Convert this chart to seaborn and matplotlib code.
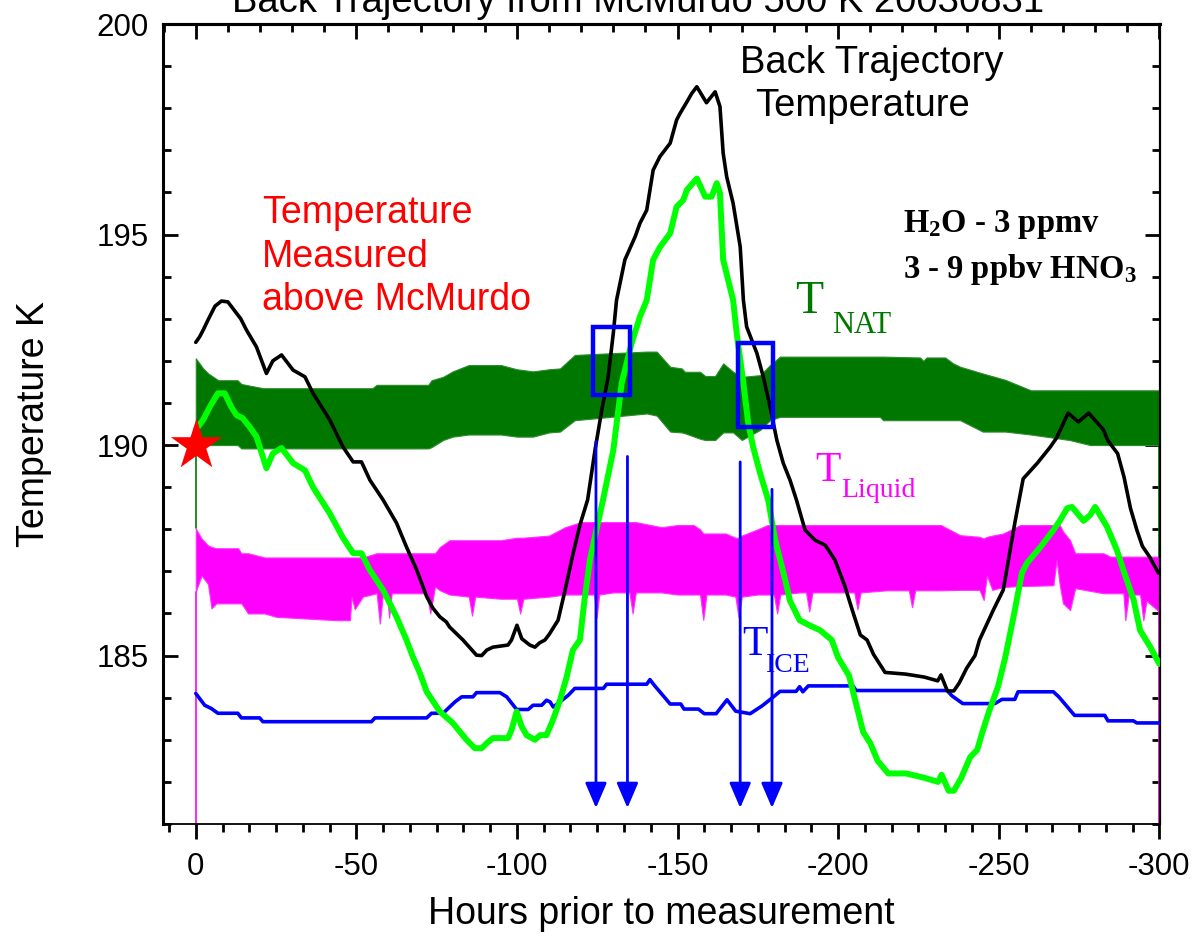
import matplotlib
matplotlib.use("Agg")
import matplotlib.pyplot as plt
import numpy as np
import pandas as pd
import seaborn as sns
from matplotlib.ticker import MultipleLocator
from matplotlib.patches import Rectangle

# ---------------- data ----------------
black_h = [0, -1.2, -2.3, -4, -6, -8, -10, -12, -14, -15.8, -18.9, -22, -24, -26.7, -30.3, -34, -36.5,
           -41.7, -45.8, -49, -51.6, -54.2, -58.3, -62.5, -65.6, -68.8, -71.9, -73.8, -76, -78, -79,
           -83.2, -87.4, -89, -90.6, -92.5, -97.2, -98.3, -100, -101.5, -104, -105.6, -107, -108.7,
           -110, -112.8, -115, -117.4, -119.6, -122, -124.3, -126.4, -128.4, -130, -131, -133.6,
           -136.8, -138.3, -140.4, -142.4, -144.5, -147.7, -149.7, -150.8, -152.9, -154.4, -156,
           -159, -161.7, -163.2, -164.2, -165.3, -167.3, -169.5, -170.5, -171.5, -174.7, -176.7,
           -178.8, -180.9, -182.9, -185, -187, -189.7, -192.8, -196, -199, -202, -204.4, -206.9,
           -209, -211, -214.6, -221, -226.8, -231, -232, -234, -236, -237.7, -240, -242.6, -244,
           -248.3, -251.4, -255, -257.6, -262, -266, -268, -271.6, -274.8, -278, -281, -282.6,
           -284, -287, -289, -291, -293, -294.7, -297, -299.7]
black_T = [192.44, 192.57, 192.73, 193.0, 193.3, 193.42, 193.4, 193.2, 193.0, 192.73, 192.33, 191.7,
           192.0, 192.14, 191.78, 191.62, 191.23, 190.6, 189.96, 189.6, 189.6, 189.17, 188.7, 188.15,
           187.58, 187.03, 186.4, 186.13, 185.92, 185.8, 185.68, 185.37, 185.01, 185.0, 185.13,
           185.2, 185.25, 185.37, 185.72, 185.4, 185.25, 185.2, 185.3, 185.37, 185.5, 185.84,
           186.56, 187.4, 188.1, 188.7, 189.88, 190.83, 191.62, 192.66, 193.44, 194.4, 194.95,
           195.27, 195.58, 196.53, 196.85, 197.17, 197.72, 197.88, 198.15, 198.35, 198.51, 198.13,
           198.39, 198.04, 196.93, 196.37, 195.74, 194.71, 193.44, 192.81, 192.18, 191.62, 190.91,
           190.12, 189.57, 189.17, 188.7, 187.98, 187.74, 187.62, 187.27, 186.67, 186.08, 185.49,
           185.37, 185.03, 184.6, 184.56, 184.49, 184.4, 184.54, 184.16, 184.16, 184.35, 184.7,
           185.0, 185.37, 186.08, 186.56, 188.15, 189.2, 189.57, 189.95, 190.17, 190.76, 190.55,
           190.76, 190.5, 190.36, 190.1, 189.8, 189.24, 188.5, 187.98, 187.6, 187.34, 186.96]

green_h = [0, -2.3, -4.4, -6.9, -9, -11.1, -12.7, -14.6, -16.8, -18.9, -22, -24, -26.7, -30.3, -34,
           -36.5, -41.7, -45.8, -49, -51.6, -54.2, -58.3, -62.5, -65.6, -67.6, -69.8, -71.9, -76,
           -80, -84.3, -86.9, -89, -90.6, -92.5, -97.2, -98.3, -99.9, -101.5, -103, -105.6, -107.2,
           -109.2, -111.2, -113.4, -115.5, -117.4, -119.6, -121, -122.7, -124.5, -126.8, -130,
           -132.6, -135.7, -138.3, -140.4, -142.4, -144.5, -147.7, -149.7, -151.8, -152.9, -156,
           -158.6, -160.6, -162.2, -163.2, -164.2, -167.3, -168.4, -170.5, -172, -173.5, -175.7,
           -178.2, -180.4, -183.5, -185, -188, -191, -194.4, -198, -200, -203.4, -205.6, -207.8,
           -210, -212.3, -215.6, -221.2, -226.7, -231.1, -232.2, -234.4, -236, -238.3, -241.1,
           -243.3, -244.9, -247, -249.8, -252, -254.6, -257.2, -258.8, -263, -267, -269, -271.3,
           -272.8, -276.4, -278.5, -280, -283.7, -286.8, -288.8, -292, -294, -297.2, -300]
green_T = [190.36, 190.6, 190.91, 191.23, 191.23, 190.9, 190.71, 190.64, 190.43, 190.2, 189.45, 189.8,
           189.93, 189.57, 189.4, 189.0, 188.38, 187.8, 187.43, 187.43, 187.03, 186.56, 185.92,
           185.37, 184.97, 184.58, 184.14, 183.67, 183.4, 183.0, 182.8, 182.8, 182.92, 183.04,
           183.04, 183.23, 183.67, 183.31, 183.11, 183.0, 183.11, 183.11, 183.47, 183.94, 184.5,
           185.13, 185.37, 186.3, 187.27, 187.9, 188.7, 189.88, 191.47, 192.42, 193.05, 193.44,
           194.4, 194.7, 195.03, 195.66, 195.82, 196.06, 196.33, 195.9, 195.9, 196.22, 195.98,
           194.4, 193.44, 192.66, 191.47, 190.52, 189.96, 189.33, 188.7, 187.74, 186.8, 186.3,
           185.84, 185.72, 185.6, 185.37, 184.95, 184.52, 183.85, 183.18, 182.92, 182.5, 182.2,
           182.2, 182.1, 182.0, 182.17, 181.79, 181.79, 182.09, 182.59, 182.76, 183.18, 183.68,
           184.27, 184.95, 185.92, 186.96, 187.2, 187.58, 187.98, 188.2, 188.5, 188.53, 188.2,
           188.34, 188.53, 188.06, 187.5, 187.03, 186.32, 185.6, 185.2, 184.8]

ice_h = [0, -2.8, -4.9, -6.9, -13.1, -14.2, -19.9, -20.9, -54.7, -55.8, -71.9, -73.4, -77, -78.5,
         -80.7, -82.8, -86.3, -87.4, -94.7, -96.8, -99.9, -103.5, -105, -107.7, -109.2, -110.3,
         -111.3, -113.4, -116, -118, -126.9, -127.9, -140.4, -141.4, -142.7, -147.7, -151, -152,
         -156.5, -158.3, -162, -165.4, -168.1, -172.6, -176.4, -179.2, -181.9, -186.9, -188, -189,
         -190.7, -204.6, -205.6, -233.9, -235.5, -238.8, -248.8, -251, -255, -256, -267, -268.7,
         -273.6, -283, -284, -291.9, -293, -300]
ice_T = [184.1, 183.82, 183.74, 183.63, 183.63, 183.52, 183.52, 183.43, 183.43, 183.52, 183.52,
         183.63, 183.63, 183.74, 183.9, 184.02, 184.02, 184.12, 184.12, 184.02, 183.72, 183.72,
         183.82, 183.82, 183.94, 183.9, 183.78, 183.9, 184.06, 184.22, 184.22, 184.32, 184.32,
         184.43, 184.3, 183.85, 183.85, 183.73, 183.73, 183.62, 183.62, 183.95, 183.68, 183.62,
         183.81, 183.98, 184.15, 184.15, 184.26, 184.14, 184.28, 184.28, 184.17, 184.17, 184.04,
         183.86, 183.86, 183.96, 183.96, 184.14, 184.14, 184.02, 183.58, 183.58, 183.45, 183.45,
         183.4, 183.4]

nat_h = [0, -2.3, -3.9, -7, -13, -14.2, -21, -55, -56.3, -72.4, -73.4, -77, -80, -85, -95, -100,
         -105, -110, -113.4, -118, -140.4, -143.5, -147.7, -151.3, -152.3, -157, -158.6, -161.7,
         -164.2, -167.3, -170, -175.7, -178.8, -181.9, -194.4, -213, -214, -225.5, -226.5, -227.5,
         -233.3, -235.8, -238, -245, -252, -260, -272, -278.5, -300]
nat_hi = [192.06, 191.82, 191.7, 191.54, 191.54, 191.45, 191.35, 191.35, 191.43, 191.43, 191.54,
          191.62, 191.75, 191.9, 191.9, 191.8, 191.75, 191.8, 191.82, 192.14, 192.22, 192.22,
          191.86, 191.82, 191.74, 191.74, 191.64, 191.64, 191.94, 191.74, 191.62, 191.66, 191.9,
          192.1, 192.1, 192.1, 192.1, 192.08, 192.0, 192.08, 192.08, 191.94, 191.86, 191.7,
          191.55, 191.3, 191.3, 191.3, 191.3]
nat_lo = [190.1, 190.05, 190.0, 190.0, 190.0, 189.92, 189.92, 189.92, 189.92, 189.92, 189.95,
          190.12, 190.2, 190.25, 190.25, 190.2, 190.2, 190.3, 190.32, 190.59, 190.75, 190.7,
          190.32, 190.3, 190.28, 190.15, 190.12, 190.12, 190.3, 190.3, 190.12, 190.36, 190.59,
          190.67, 190.67, 190.67, 190.59, 190.59, 190.59, 190.59, 190.59, 190.59, 190.59, 190.32,
          190.32, 190.25, 190.12, 190.0, 190.0]

liq_h = [0, -1.8, -3.8, -4.9, -6.4, -13.2, -14.2, -16.3, -21.5, -25, -43.8, -48, -48.5, -49.5, -52,
         -56.3, -57.3, -58.3, -59.5, -60.2, -61, -71.9, -73, -74.5, -76, -79, -85, -86, -87, -95,
         -100, -101, -102, -110, -115, -120, -124, -124.8, -125.6, -130, -135, -136, -137, -145,
         -150, -155, -157, -158, -159, -165, -168, -169, -170, -175, -178, -180, -181, -182, -188,
         -190, -191, -192, -200, -205, -206, -207, -215, -222, -223, -224, -232, -238, -244,
         -245.3, -246.3, -248, -251.4, -256.7, -267, -268, -269, -270, -272.2, -273.8, -282.6,
         -284.7, -288.8, -289.4, -290.5, -294, -295, -296, -300]
liq_hi = [188.02, 187.78, 187.62, 187.58, 187.55, 187.55, 187.43, 187.43, 187.33, 187.33, 187.33,
          187.33, 187.33, 187.33, 187.33, 187.43, 187.43, 187.43, 187.43, 187.43, 187.43, 187.43,
          187.43, 187.43, 187.58, 187.74, 187.74, 187.74, 187.74, 187.74, 187.8, 187.8, 187.8,
          187.85, 188.05, 188.17, 188.17, 188.17, 188.17, 188.17, 188.17, 188.17, 188.17, 188.05,
          188.1, 188.1, 188.0, 187.9, 187.9, 187.9, 187.8, 187.8, 187.85, 188.0, 188.1, 188.1,
          188.1, 188.1, 188.1, 188.1, 188.1, 188.1, 188.1, 188.1, 188.1, 188.1, 188.1, 188.1,
          188.1, 188.1, 188.1, 187.86, 187.82, 187.78, 187.82, 187.85, 187.9, 188.1, 188.1, 188.1,
          188.1, 187.95, 187.74, 187.43, 187.43, 187.35, 187.35, 187.35, 187.35, 187.35, 187.35,
          187.35, 187.35]
liq_lo = [186.52, 186.9, 186.7, 186.12, 186.24, 186.24, 186.24, 186.0, 186.0, 185.92, 185.84,
          185.84, 186.4, 186.1, 186.4, 186.48, 185.76, 186.48, 186.48, 185.9, 186.48, 186.48,
          186.0, 186.64, 186.55, 186.45, 186.4, 185.95, 186.4, 186.35, 186.35, 186.0, 186.35,
          186.4, 186.45, 186.45, 186.45, 185.9, 186.45, 186.5, 186.5, 186.0, 186.5, 186.5, 186.45,
          186.45, 186.45, 185.85, 186.45, 186.45, 186.4, 185.9, 186.4, 186.45, 186.45, 186.45,
          186.0, 186.45, 186.5, 186.5, 186.05, 186.5, 186.5, 186.5, 186.1, 186.5, 186.55, 186.55,
          186.15, 186.55, 186.55, 186.56, 186.56, 186.32, 186.9, 186.56, 186.63, 186.65, 186.67,
          187.27, 186.67, 186.24, 186.08, 186.6, 186.48, 186.48, 186.48, 185.84, 186.45, 186.45,
          185.84, 186.3, 186.04]

star_h = [0]
star_T = [190]

box_h_start = [-123.8, -168.9]
box_h_end = [-135.2, -179.8]
box_T_low = [191.19, 190.43]
box_T_high = [192.81, 192.42]

arrow_h = [-124.6, -134.4, -169.5, -179.4]
arrow_T_top = [190.08, 189.73, 189.6, 188.95]
arrow_T_tip = [181.38, 181.38, 181.38, 181.38]

x_ticks = [0, -50, -100, -150, -200, -250, -300]
y_ticks = [185, 190, 195, 200]

# ---------------- style ----------------
sns.set_theme(style="white")
plt.rcParams['font.family'] = ['Liberation Sans', 'DejaVu Sans']
plt.rcParams['axes.unicode_minus'] = False
plt.rcParams['mathtext.default'] = 'regular'
for key in ['text.color', 'axes.labelcolor', 'xtick.color', 'ytick.color', 'axes.edgecolor']:
    plt.rcParams[key] = 'black'

W, H = 1195, 942
fig = plt.figure(figsize=(W / 100, H / 100), dpi=100)
ax = fig.add_axes([163 / W, 118 / H, 997 / W, 800 / H])

NAT_C = '#007800'
LIQ_C = '#ff00ff'
ICE_C = '#0000ff'
GRN_C = '#00ff00'

ax.fill_between(nat_h, nat_lo, nat_hi, color=NAT_C, linewidth=0.8, edgecolor='#2e8b2e', zorder=1)
ax.fill_between(liq_h, liq_lo, liq_hi, color=LIQ_C, linewidth=0.8, edgecolor='#ff33ff', zorder=1)

# edge connector lines at the ends of the bands
ax.plot([0, 0], [liq_hi[0], nat_lo[0]], color=NAT_C, lw=1.2, zorder=1)
ax.plot([0, 0], [181, liq_lo[0]], color=LIQ_C, lw=1.2, zorder=1)
ax.plot([-300, -300], [liq_hi[-1], nat_lo[-1]], color=NAT_C, lw=1.2, zorder=1)
ax.plot([-300, -300], [181, liq_lo[-1]], color=LIQ_C, lw=1.2, zorder=1)

df_ice = pd.DataFrame({'h': ice_h, 'T': ice_T})
df_grn = pd.DataFrame({'h': green_h, 'T': green_T})
df_blk = pd.DataFrame({'h': black_h, 'T': black_T})
sns.lineplot(data=df_ice, x='h', y='T', ax=ax, color=ICE_C, linewidth=2.6, sort=False,
             estimator=None, zorder=3)
sns.lineplot(data=df_grn, x='h', y='T', ax=ax, color=GRN_C, linewidth=4.3, sort=False,
             estimator=None, zorder=4)
sns.lineplot(data=df_blk, x='h', y='T', ax=ax, color='black', linewidth=2.6, sort=False,
             estimator=None, zorder=5)

for h0, h1, t0, t1 in zip(box_h_start, box_h_end, box_T_low, box_T_high):
    ax.add_patch(Rectangle((h0, t0), h1 - h0, t1 - t0, fill=False, edgecolor=ICE_C,
                           linewidth=3.2, zorder=6))

for h, t0, t1 in zip(arrow_h, arrow_T_top, arrow_T_tip):
    ax.annotate('', xy=(h, t1), xytext=(h, t0),
                arrowprops=dict(arrowstyle='-|>,head_length=0.7,head_width=0.3', color=ICE_C,
                                lw=2.0, shrinkA=0, shrinkB=0, mutation_scale=22),
                zorder=6)

sns.scatterplot(x=star_h, y=star_T, ax=ax, marker='*', s=1500, color='#ff0000',
                linewidth=0, zorder=8, clip_on=False)

# ---------------- axes ----------------
ax.set_xlim(10.2, -300.2)
ax.set_ylim(181, 200)
ax.set_xticks(x_ticks)
ax.set_xticklabels([str(v) for v in x_ticks])
ax.set_yticks(y_ticks)
ax.set_yticklabels([str(v) for v in y_ticks])
ax.xaxis.set_minor_locator(MultipleLocator(50 / 6))
ax.yaxis.set_minor_locator(MultipleLocator(1))

ax.tick_params(axis='y', which='major', direction='in', length=11, width=2, left=True,
               right=True, labelsize=22.5, pad=10, colors='black')
ax.tick_params(axis='y', which='minor', direction='in', length=5.5, width=2, left=True,
               right=True, colors='black')
ax.tick_params(axis='x', which='major', direction='out', length=11, width=2, bottom=True,
               top=False, labelsize=22.5, pad=9, colors='black')
ax.tick_params(axis='x', which='minor', direction='out', length=5.5, width=2, bottom=True,
               top=False, colors='black')

sec = ax.secondary_xaxis('top')
sec.xaxis.set_major_locator(MultipleLocator(50))
sec.xaxis.set_minor_locator(MultipleLocator(10))
sec.tick_params(axis='x', which='major', direction='in', length=11, width=2, labeltop=False,
                colors='black')
sec.tick_params(axis='x', which='minor', direction='in', length=5.5, width=2, colors='black')
sec.spines['top'].set_linewidth(2.2)
sec.spines['top'].set_color('black')

for side, lw in [('left', 2.2), ('top', 2.2), ('right', 1.6), ('bottom', 1.3)]:
    ax.spines[side].set_visible(True)
    ax.spines[side].set_linewidth(lw)
    ax.spines[side].set_color('black')

ax.set_xlabel('Hours prior to measurement', fontsize=27, labelpad=10, color='black')
ax.set_ylabel('Temperature K', fontsize=27, labelpad=32, color='black')

# ---------------- text ----------------
fig.text(638 / W, 1 - 12 / H, 'Back Trajectory from McMurdo 500 K 20030831', fontsize=27.5,
         ha='center', va='baseline', color='black')

ax.text(-169.4, 198.84, 'Back Trajectory', fontsize=27.5, ha='left', va='baseline', color='black')
ax.text(-174.0, 197.82, 'Temperature', fontsize=27.5, ha='left', va='baseline', color='black')

for txt, t in [('Temperature', 195.27), ('Measured', 194.24), ('above McMurdo', 193.2)]:
    ax.text(-20.7, t, txt, fontsize=27, color='#ff0000', ha='left', va='baseline')

serif = ['Liberation Serif', 'DejaVu Serif']
ax.text(-220.2, 195.06, r'H$_2$O - 3 ppmv', fontsize=23.5, fontweight='bold', family=serif,
        ha='left', va='baseline', color='black')
ax.text(-220.2, 193.97, r'3 - 9 ppbv HNO$_3$', fontsize=23.5, fontweight='bold', family=serif,
        ha='left', va='baseline', color='black')

ax.text(-186.6, 193.14, 'T', fontsize=33, color=NAT_C, family=serif, ha='left', va='baseline')
ax.text(-198.2, 192.67, 'NAT', fontsize=22, color=NAT_C, family=serif, ha='left', va='baseline')

ax.text(-192.8, 189.15, 'T', fontsize=30, color=LIQ_C, family=serif, ha='left', va='baseline')
ax.text(-201.1, 188.77, 'Liquid', fontsize=20, color=LIQ_C, family=serif, ha='left', va='baseline')

ax.text(-170.0, 185.02, 'T', fontsize=30, color=ICE_C, family=serif, ha='left', va='baseline')
ax.text(-177.5, 184.62, 'ICE', fontsize=20, color=ICE_C, family=serif, ha='left', va='baseline')

fig.savefig('out.png', dpi=100)
